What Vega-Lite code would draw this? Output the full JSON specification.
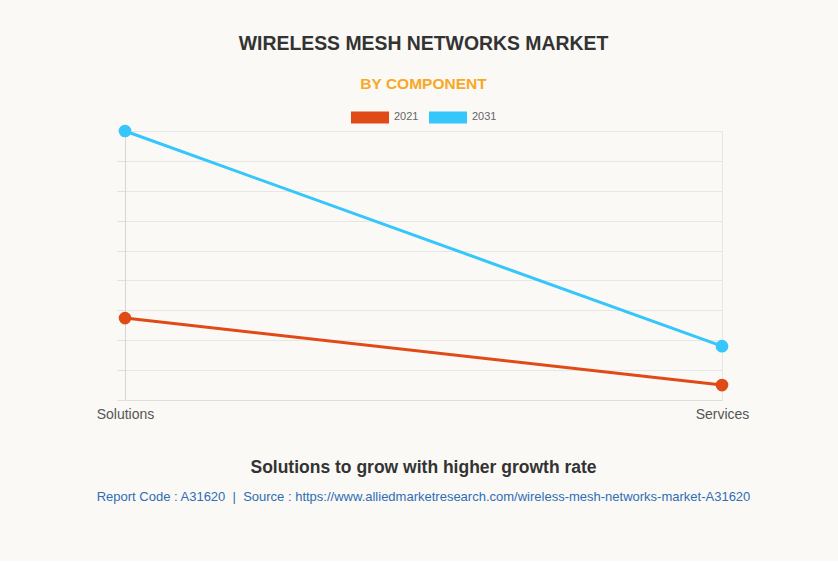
{
  "$schema": "https://vega.github.io/schema/vega-lite/v6.json",
  "background": "#faf9f5",
  "padding": {"left": 96, "top": 34, "right": 92, "bottom": 57},
  "title": {
    "text": "WIRELESS MESH NETWORKS MARKET",
    "subtitle": "BY COMPONENT",
    "anchor": "middle",
    "frame": "group",
    "font": "Liberation Sans",
    "fontSize": 19.4,
    "fontWeight": "bold",
    "color": "#333333",
    "subtitleFont": "Liberation Sans",
    "subtitleFontSize": 15.5,
    "subtitleFontWeight": "bold",
    "subtitleColor": "#f9a825",
    "subtitlePadding": 22,
    "offset": 5
  },
  "config": {
    "view": {"stroke": null},
    "legend": {"layout": {"top": {"anchor": "middle"}}}
  },
  "vconcat": [
    {
      "width": 597,
      "height": 269,
      "title": {
        "text": "Solutions to grow with higher growth rate",
        "subtitle": "Report Code : A31620 \u00a0|\u00a0 Source : https://www.alliedmarketresearch.com/wireless-mesh-networks-market-A31620",
        "orient": "bottom",
        "anchor": "middle",
        "frame": "group",
        "font": "Liberation Sans",
        "fontSize": 17.5,
        "fontWeight": "bold",
        "color": "#333333",
        "subtitleFont": "Liberation Sans",
        "subtitleFontSize": 13,
        "subtitleColor": "#2f6db5",
        "subtitlePadding": 14,
        "offset": 38
      },
      "data": {
        "values": [
          {"segment": "Solutions", "year": "2021", "value": 2.74},
          {"segment": "Services", "year": "2021", "value": 0.5},
          {"segment": "Solutions", "year": "2031", "value": 9.0},
          {"segment": "Services", "year": "2031", "value": 1.8}
        ]
      },
      "encoding": {
        "x": {
          "field": "segment",
          "type": "nominal",
          "sort": ["Solutions", "Services"],
          "scale": {"type": "point", "padding": 0},
          "axis": {
            "title": null,
            "labelAngle": 0,
            "labelFont": "Liberation Sans",
            "labelFontSize": 14,
            "labelColor": "#555555",
            "labelPadding": 7,
            "ticks": false,
            "domainColor": "#dddddd",
            "grid": true,
            "gridColor": "#e6e6e6"
          }
        },
        "y": {
          "field": "value",
          "type": "quantitative",
          "scale": {"domain": [0, 9], "nice": false},
          "axis": {
            "title": null,
            "labels": false,
            "values": [0, 1, 2, 3, 4, 5, 6, 7, 8, 9],
            "tickSize": 8,
            "tickColor": "#e0e0e0",
            "domainColor": "#d6d6d6",
            "gridColor": "#e6e6e6"
          }
        },
        "color": {
          "field": "year",
          "type": "nominal",
          "scale": {"domain": ["2021", "2031"], "range": ["#e04a17", "#35c6fc"]},
          "legend": {
            "title": null,
            "orient": "top",
            "direction": "horizontal",
            "symbolType": "M-1,-0.32H1V0.32H-1Z",
            "symbolSize": 1444,
            "symbolStrokeWidth": 0,
            "symbolOpacity": 1,
            "labelFont": "Liberation Sans",
            "labelFontSize": 11,
            "labelColor": "#666666",
            "labelOffset": 5,
            "columnPadding": 10,
            "offset": 0
          }
        }
      },
      "layer": [
        {"mark": {"type": "line", "strokeWidth": 3}},
        {"mark": {"type": "point", "filled": true, "size": 160, "opacity": 1}}
      ]
    }
  ]
}
